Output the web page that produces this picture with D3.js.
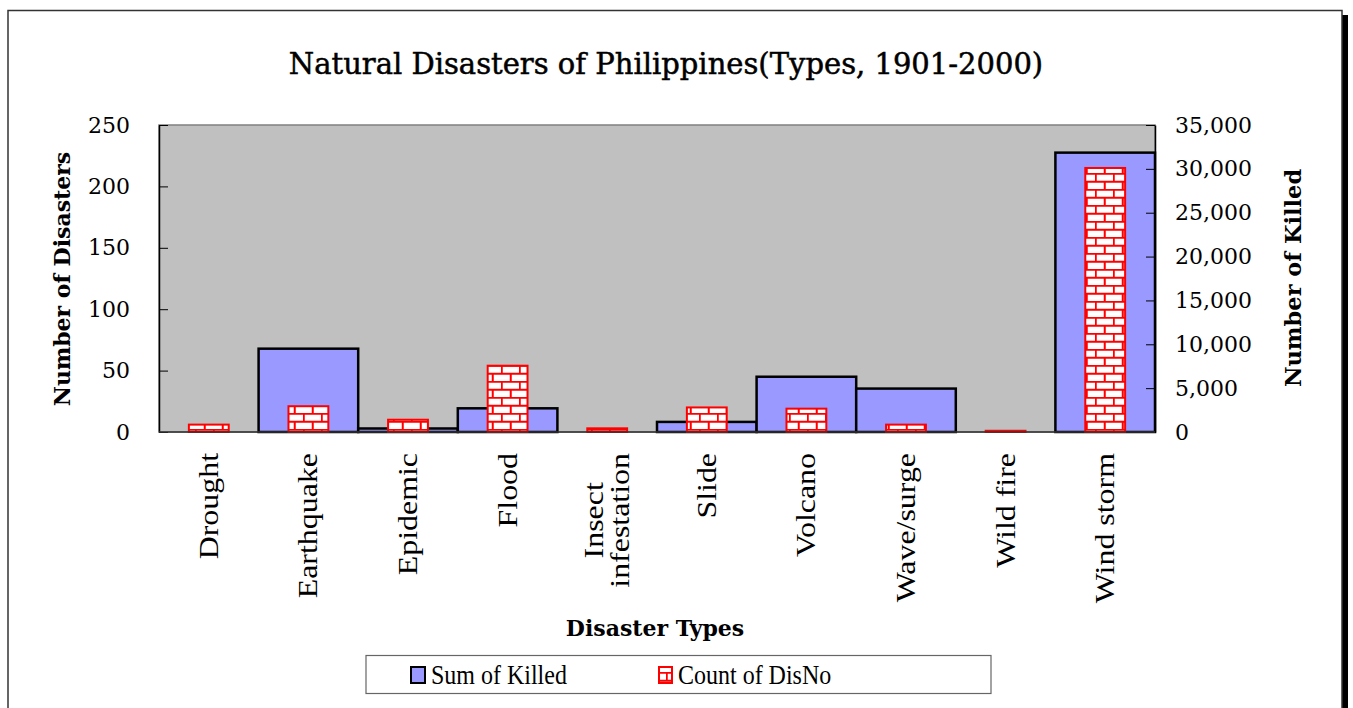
<!DOCTYPE html>
<html>
<head>
<meta charset="utf-8">
<script src="https://cdn.jsdelivr.net/npm/d3@7"></script>
<style>
body{margin:0;background:#fff;}
</style>
</head>
<body>
<div id="root"></div>
<script>
//data
var categories=['Drought','Earthquake','Epidemic','Flood','Insect infestation','Slide','Volcano','Wave/surge','Wild fire','Wind storm'];
var sumKilled=[0,9500,400,2700,0,1150,6300,4950,0,31850];
var countDisNo=[6,21,10,54,3,20,19,6,1,215];
var leftTicks=[0,50,100,150,200,250];
var rightTicks=[0,5000,10000,15000,20000,25000,30000,35000];

var W=1353,H=708;
var margin={t:125,l:159,r:198,b:276};
var w=W-margin.l-margin.r;
var h=H-margin.t-margin.b;

var svg=d3.select('#root').append('svg')
	.attr('width',W)
	.attr('height',H)
	.style('display','block');

var serif='"DejaVu Serif", serif';
var times='"Liberation Serif", "Times New Roman", serif';

//brick pattern for count bars
var defs=svg.append('defs');
var pat=defs.append('pattern').attr('id','brick')
	.attr('patternUnits','userSpaceOnUse')
	.attr('width',18).attr('height',16);
pat.append('rect').attr('width',18).attr('height',16).attr('fill','#fff');
pat.append('path')
	.attr('d','M0,0.75H18M0,8.75H18M0.75,0V8M9.75,8V16')
	.attr('stroke','#ff0000').attr('stroke-width',2).attr('fill','none');

//outer frame + shadow
svg.append('rect')
	.attr('x',1342).attr('y',15).attr('width',6).attr('height',H)
	.attr('fill','#000');
svg.append('rect')
	.attr('x',8).attr('y',10.5).attr('width',1334).attr('height',H+20)
	.attr('fill','#fff').attr('stroke','#333').attr('stroke-width',1.5);

//title
svg.append('text')
	.attr('x',666).attr('y',74)
	.attr('text-anchor','middle')
	.style('font-family',serif).style('font-size','29px')
	.attr('stroke','#000').attr('stroke-width',0.5)
	.text('Natural Disasters of Philippines(Types, 1901-2000)');

var g=svg.append('g').attr('transform','translate('+margin.l+','+margin.t+')');

//scales
var xScale=d3.scaleBand().domain(categories).range([0,w]).padding(0);
var yLeft=d3.scaleLinear().domain([0,250]).range([h,0]);
var yRight=d3.scaleLinear().domain([0,35000]).range([h,0]);

//plot area
g.append('rect')
	.attr('x',0).attr('y',0).attr('width',w).attr('height',h)
	.attr('fill','#c0c0c0').attr('stroke','#808080').attr('stroke-width',1.5);

var data=categories.map(function(c,i){return {cat:c,killed:sumKilled[i],count:countDisNo[i]}});

//sum of killed bars
g.selectAll('.killed').data(data.filter(function(d){return d.killed>0})).enter()
	.append('rect').attr('class','killed')
	.attr('x',function(d){return xScale(d.cat)})
	.attr('y',function(d){return yRight(d.killed)})
	.attr('width',xScale.bandwidth())
	.attr('height',function(d){return h-yRight(d.killed)})
	.attr('fill','#9999ff').attr('stroke','#000').attr('stroke-width',2.5);

//count bars
var cw=xScale.bandwidth()*0.4;
g.selectAll('.count').data(data).enter()
	.append('rect').attr('class','count')
	.attr('x',function(d){return xScale(d.cat)+(xScale.bandwidth()-cw)/2})
	.attr('y',function(d){return yLeft(d.count)})
	.attr('width',cw)
	.attr('height',function(d){return h-yLeft(d.count)})
	.attr('fill','url(#brick)').attr('stroke','#ff0000').attr('stroke-width',2);

//axes
g.append('g').attr('class','yAxis')
	.call(d3.axisLeft(yLeft).tickValues(leftTicks).tickSizeInner(-9).tickSizeOuter(0).tickPadding(29));
g.append('g').attr('class','yAxis').attr('transform','translate('+w+',0)')
	.call(d3.axisRight(yRight).tickValues(rightTicks).tickFormat(d3.format(',')).tickSizeInner(-9).tickSizeOuter(0).tickPadding(20));
g.selectAll('.yAxis path').attr('stroke','#000').attr('stroke-width',1.5);
g.selectAll('.yAxis line').attr('stroke','#000');
g.selectAll('.yAxis text').style('font-family',serif).style('font-size','22px').attr('fill','#000');

//baseline
g.append('line').attr('x1',0).attr('x2',w).attr('y1',h).attr('y2',h)
	.attr('stroke','#333').attr('stroke-width',1.5);

//category labels (rotated, a little stretched along the text)
g.selectAll('.catLabel').data(categories).enter()
	.append('g').attr('class','catLabel')
	.attr('transform',function(d){return 'translate('+(xScale(d)+xScale.bandwidth()/2)+','+(h+21)+') rotate(-90) scale(1.14,1)'})
	.each(function(d){
		var lines=d.split(' ');
		var el=d3.select(this);
		if(d=='Insect infestation'){
			var t=el.selectAll('text').data(lines).enter().append('text')
				.attr('text-anchor','middle')
				.attr('y',function(l,i){return (i-0.5)*26+9})
				.style('font-family',times).style('font-size','28px')
				.text(function(l){return l});
			var maxW=d3.max(t.nodes(),function(n){return n.getComputedTextLength()});
			t.attr('x',-maxW/2);
		}else{
			el.append('text').attr('text-anchor','end').attr('y',9)
				.style('font-family',times).style('font-size','28px')
				.text(d);
		}
	});

//axis titles
svg.append('text')
	.attr('transform','translate(70,279) rotate(-90)')
	.attr('text-anchor','middle')
	.style('font-family',serif).style('font-size','22px').style('font-weight','bold')
	.text('Number of Disasters');
svg.append('text')
	.attr('transform','translate(1301,278) rotate(-90)')
	.attr('text-anchor','middle')
	.style('font-family',serif).style('font-size','22.5px').style('font-weight','bold')
	.text('Number of Killed');
svg.append('text')
	.attr('x',655).attr('y',636)
	.attr('text-anchor','middle')
	.style('font-family',serif).style('font-size','22px').style('font-weight','bold')
	.text('Disaster Types');

//legend
var leg=svg.append('g');
leg.append('rect').attr('x',366).attr('y',655.5).attr('width',625).attr('height',38)
	.attr('fill','#fff').attr('stroke','#666').attr('stroke-width',1.2);
leg.append('rect').attr('x',411).attr('y',667).attr('width',14).attr('height',16)
	.attr('fill','#9999ff').attr('stroke','#000').attr('stroke-width',2);
leg.append('text').attr('transform','translate(431,684) scale(1,1.18)')
	.style('font-family',times).style('font-size','24px')
	.text('Sum of Killed');
leg.append('rect').attr('x',659).attr('y',667).attr('width',13).attr('height',16)
	.attr('fill','url(#brick)').attr('stroke','#ff0000').attr('stroke-width',2);
leg.append('text').attr('transform','translate(678,684) scale(1,1.18)')
	.style('font-family',times).style('font-size','24px')
	.text('Count of DisNo');
</script>
</body>
</html>
